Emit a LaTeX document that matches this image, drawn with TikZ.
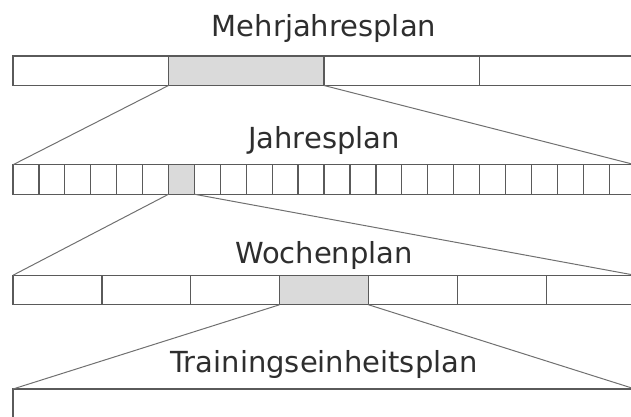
\documentclass[tikz,border=0pt]{standalone}
\usepackage{fontspec}
\setmainfont{DejaVu Sans}
\usepackage{xcolor}
\usepackage{tikz}
\usetikzlibrary{positioning}

\definecolor{linegray}{HTML}{5A5A5A}
\definecolor{conngray}{HTML}{707070}
\definecolor{shadegray}{HTML}{DADADA}
\definecolor{textgray}{HTML}{2E2E2E}

\tikzset{
    cell/.style={draw=linegray, line width=1.3pt, rectangle, fill=white,
                 inner sep=0pt, outer sep=0pt, minimum height=29.5pt},
    planlabel/.style={anchor=base, inner sep=0pt, text=textgray,
                 font=\fontsize{29}{34}\selectfont},
    conn/.style={draw=conngray, line width=1pt}
}

\begin{document}
\begin{tikzpicture}[x=1pt, y=-1pt]
        \useasboundingbox (0,0) rectangle (631,417);

        % Mehrjahresplan: four years
        \node (myp1) [cell, minimum width=155.5pt, anchor=north west] at (13,56) {};
        \node (myp2) [cell, minimum width=155.5pt, fill=shadegray, right=0pt of myp1] {};
        \node (myp3) [cell, minimum width=155.5pt, right=0pt of myp2] {};
        \node (myp4) [cell, minimum width=155.5pt, right=0pt of myp3] {};

        % Jahresplan: 24 cells, the 7th one picked out
        \foreach \i in {1,...,24} {
            \ifnum\i=7 \def\cellfill{shadegray}\else\def\cellfill{white}\fi
            \node (jp\i) [cell, minimum width=25.92pt, fill=\cellfill]
                at ({0.04+25.92*\i}, 179.5) {};
        }

        % Wochenplan: seven days, the 4th one picked out
        \foreach \i in {1,...,7} {
            \ifnum\i=4 \def\cellfill{shadegray}\else\def\cellfill{white}\fi
            \node (wp\i) [cell, minimum width=88.86pt, fill=\cellfill]
                at ({-31.43+88.86*\i}, 290) {};
        }

        % Trainingseinheitsplan
        \node (tep) [cell, minimum width=622pt, minimum height=40pt, anchor=north west] at (13,389) {};

        % Labels
        \node (mehrjahr) [planlabel] at (324,37) {Mehrjahresplan};
        \node (jahr) [planlabel] at (324,148) {Jahresplan};
        \node (woche) [planlabel] at (324,263) {Wochenplan};
        \node (einheit) [planlabel] at (324,372) {Trainingseinheitsplan};

        % Zoom lines
        \draw[conn] (myp2.south west) -- (jp1.north west);
        \draw[conn] (myp2.south east) -- (jp24.north east);
        \draw[conn] (jp7.south west) -- (wp1.north west);
        \draw[conn] (jp7.south east) -- (wp7.north east);
        \draw[conn] (wp4.south west) -- (tep.north west);
        \draw[conn] (wp4.south east) -- (tep.north east);
    \end{tikzpicture}
\end{document}
